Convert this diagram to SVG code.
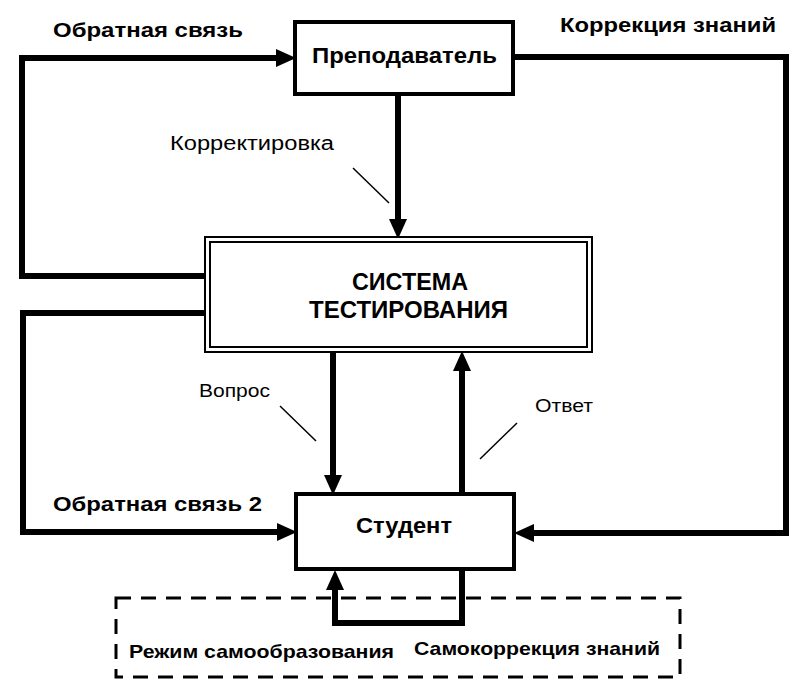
<svg xmlns="http://www.w3.org/2000/svg" width="807" height="685" viewBox="0 0 807 685">
<defs>
<style>
.t{font-family:"Liberation Sans",Arial,sans-serif;fill:#000}
.b{font-weight:bold}
.box{fill:#fff;stroke:#000;stroke-width:4}
.sys{fill:none;stroke:#000;stroke-width:2}
.c{fill:none;stroke:#000;stroke-width:6;stroke-linejoin:miter}
.ld{fill:none;stroke:#000;stroke-width:1.5}
</style>
<marker id="ah" markerUnits="userSpaceOnUse" viewBox="0 0 20 18" markerWidth="20" markerHeight="18" refX="0" refY="9" orient="auto">
<path d="M0,0 L20,9 L0,18 Z" fill="#000"/>
</marker>
</defs>
<rect width="807" height="685" fill="#fff"/>
<g id="connectors">
<path class="c" d="M205,276 H22 V58 H276" marker-end="url(#ah)"/>
<path class="c" d="M513,57 H786 V533 H534" marker-end="url(#ah)"/>
<path class="c" d="M398,94 V219" marker-end="url(#ah)"/>
<path class="c" d="M205,313 H23 V532 H277" marker-end="url(#ah)"/>
<path class="c" d="M333,352 V475" marker-end="url(#ah)"/>
<path class="c" d="M462,494 V371" marker-end="url(#ah)"/>
<path class="c" d="M462,569 V623 H335 V590" marker-end="url(#ah)"/>
<line class="ld" x1="353" y1="168" x2="389" y2="203"/>
<line class="ld" x1="280" y1="406" x2="316" y2="441"/>
<line class="ld" x1="517" y1="423" x2="480" y2="459"/>
</g>
<g id="teacher">
<rect class="box" x="295" y="22" width="218" height="72"/>
<text class="t b" x="404.5" y="63" font-size="22" text-anchor="middle" textLength="185" lengthAdjust="spacingAndGlyphs">Преподаватель</text>
</g>
<g id="system">
<rect x="205" y="237" width="387" height="115" fill="#fff"/>
<rect class="sys" x="205" y="237" width="387" height="115"/>
<rect class="sys" x="210" y="242" width="377" height="105"/>
<text class="t b" x="410" y="290" font-size="23" text-anchor="middle" textLength="116" lengthAdjust="spacingAndGlyphs">СИСТЕМА</text>
<text class="t b" x="408.5" y="318" font-size="23" text-anchor="middle" textLength="199" lengthAdjust="spacingAndGlyphs">ТЕСТИРОВАНИЯ</text>
</g>
<g id="student">
<rect class="box" x="296" y="494" width="218" height="75"/>
<text class="t b" x="404" y="533" font-size="22" text-anchor="middle" textLength="96" lengthAdjust="spacingAndGlyphs">Студент</text>
</g>
<g id="self-study">
<rect x="116" y="598" width="564" height="79" fill="none" stroke="#000" stroke-width="3" stroke-dasharray="15 10"/>
<text class="t b" x="129" y="658" font-size="19" textLength="265" lengthAdjust="spacingAndGlyphs">Режим самообразования</text>
<text class="t b" x="414" y="655" font-size="19" textLength="246" lengthAdjust="spacingAndGlyphs">Самокоррекция знаний</text>
</g>
<g id="labels">
<text class="t b" x="53" y="37" font-size="21" textLength="190" lengthAdjust="spacingAndGlyphs">Обратная связь</text>
<text class="t b" x="560" y="32" font-size="21" textLength="216" lengthAdjust="spacingAndGlyphs">Коррекция знаний</text>
<text class="t" x="170" y="150" font-size="20" textLength="164" lengthAdjust="spacingAndGlyphs">Корректировка</text>
<text class="t" x="199" y="397" font-size="19" textLength="71" lengthAdjust="spacingAndGlyphs">Вопрос</text>
<text class="t" x="535" y="412" font-size="19" textLength="58" lengthAdjust="spacingAndGlyphs">Ответ</text>
<text class="t b" x="53" y="511" font-size="21" textLength="209" lengthAdjust="spacingAndGlyphs">Обратная связь 2</text>
</g>
</svg>
